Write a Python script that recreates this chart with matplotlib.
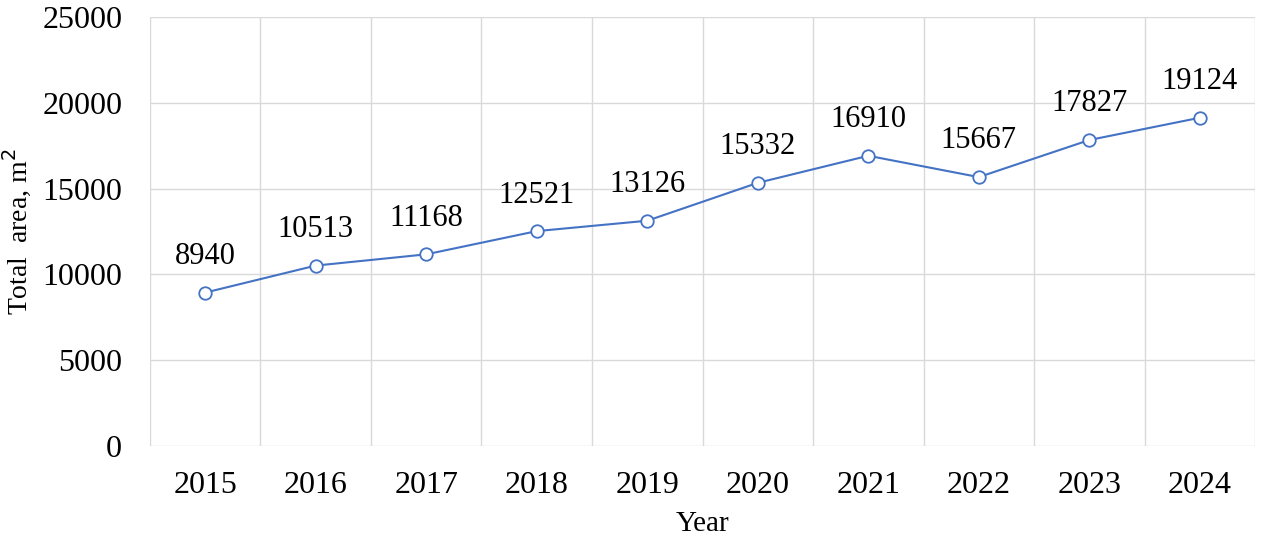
import matplotlib.pyplot as plt
import numpy as np

plt.rcParams['font.family'] = ['Liberation Serif', 'DejaVu Serif']

# data
years = ['2015', '2016', '2017', '2018', '2019', '2020', '2021', '2022', '2023', '2024']
area = [8940, 10513, 11168, 12521, 13126, 15332, 16910, 15667, 17827, 19124]
y_ticks = [0, 5000, 10000, 15000, 20000, 25000]

fig = plt.figure(figsize=(12.85, 5.44), dpi=100)
ax = fig.add_axes([0.1167, 0.180, 0.860, 0.789])

x = np.arange(len(years))
line_color = '#4472C4'
ax.plot(x, area, color=line_color, lw=1.5, marker='o', ms=9,
        markerfacecolor='white', markeredgecolor=line_color, markeredgewidth=1.3, zorder=3)

for xi, v in zip(x, area):
    ax.annotate(str(v), (xi, v), xytext=(0, 26), textcoords='offset points',
                ha='center', va='center', fontsize=22)

ax.set_xlim(-0.5, len(years) - 0.5)
ax.set_ylim(0, 25000)
ax.set_yticks(y_ticks)
ax.set_yticklabels([str(t) for t in y_ticks], fontsize=23)
ax.set_xticks(x)
ax.set_xticklabels(years, fontsize=23)

# Excel-style gridlines: horizontal at ticks, vertical between categories
for t in y_ticks:
    ax.axhline(t, color='#d9d9d9', lw=1, zorder=0)
for b in np.arange(-0.5, len(years) + 0.5, 1):
    ax.axvline(b, color='#d9d9d9', lw=1, zorder=0)

for s in ax.spines.values():
    s.set_visible(False)
ax.tick_params(axis='x', length=0, pad=18)
ax.tick_params(axis='y', length=0, pad=20)

ax.set_xlabel('Year', fontsize=21, labelpad=8)
ax.set_ylabel('Total  area, m$^2$', fontsize=20, labelpad=6)

fig.savefig('out.png', dpi=100)
